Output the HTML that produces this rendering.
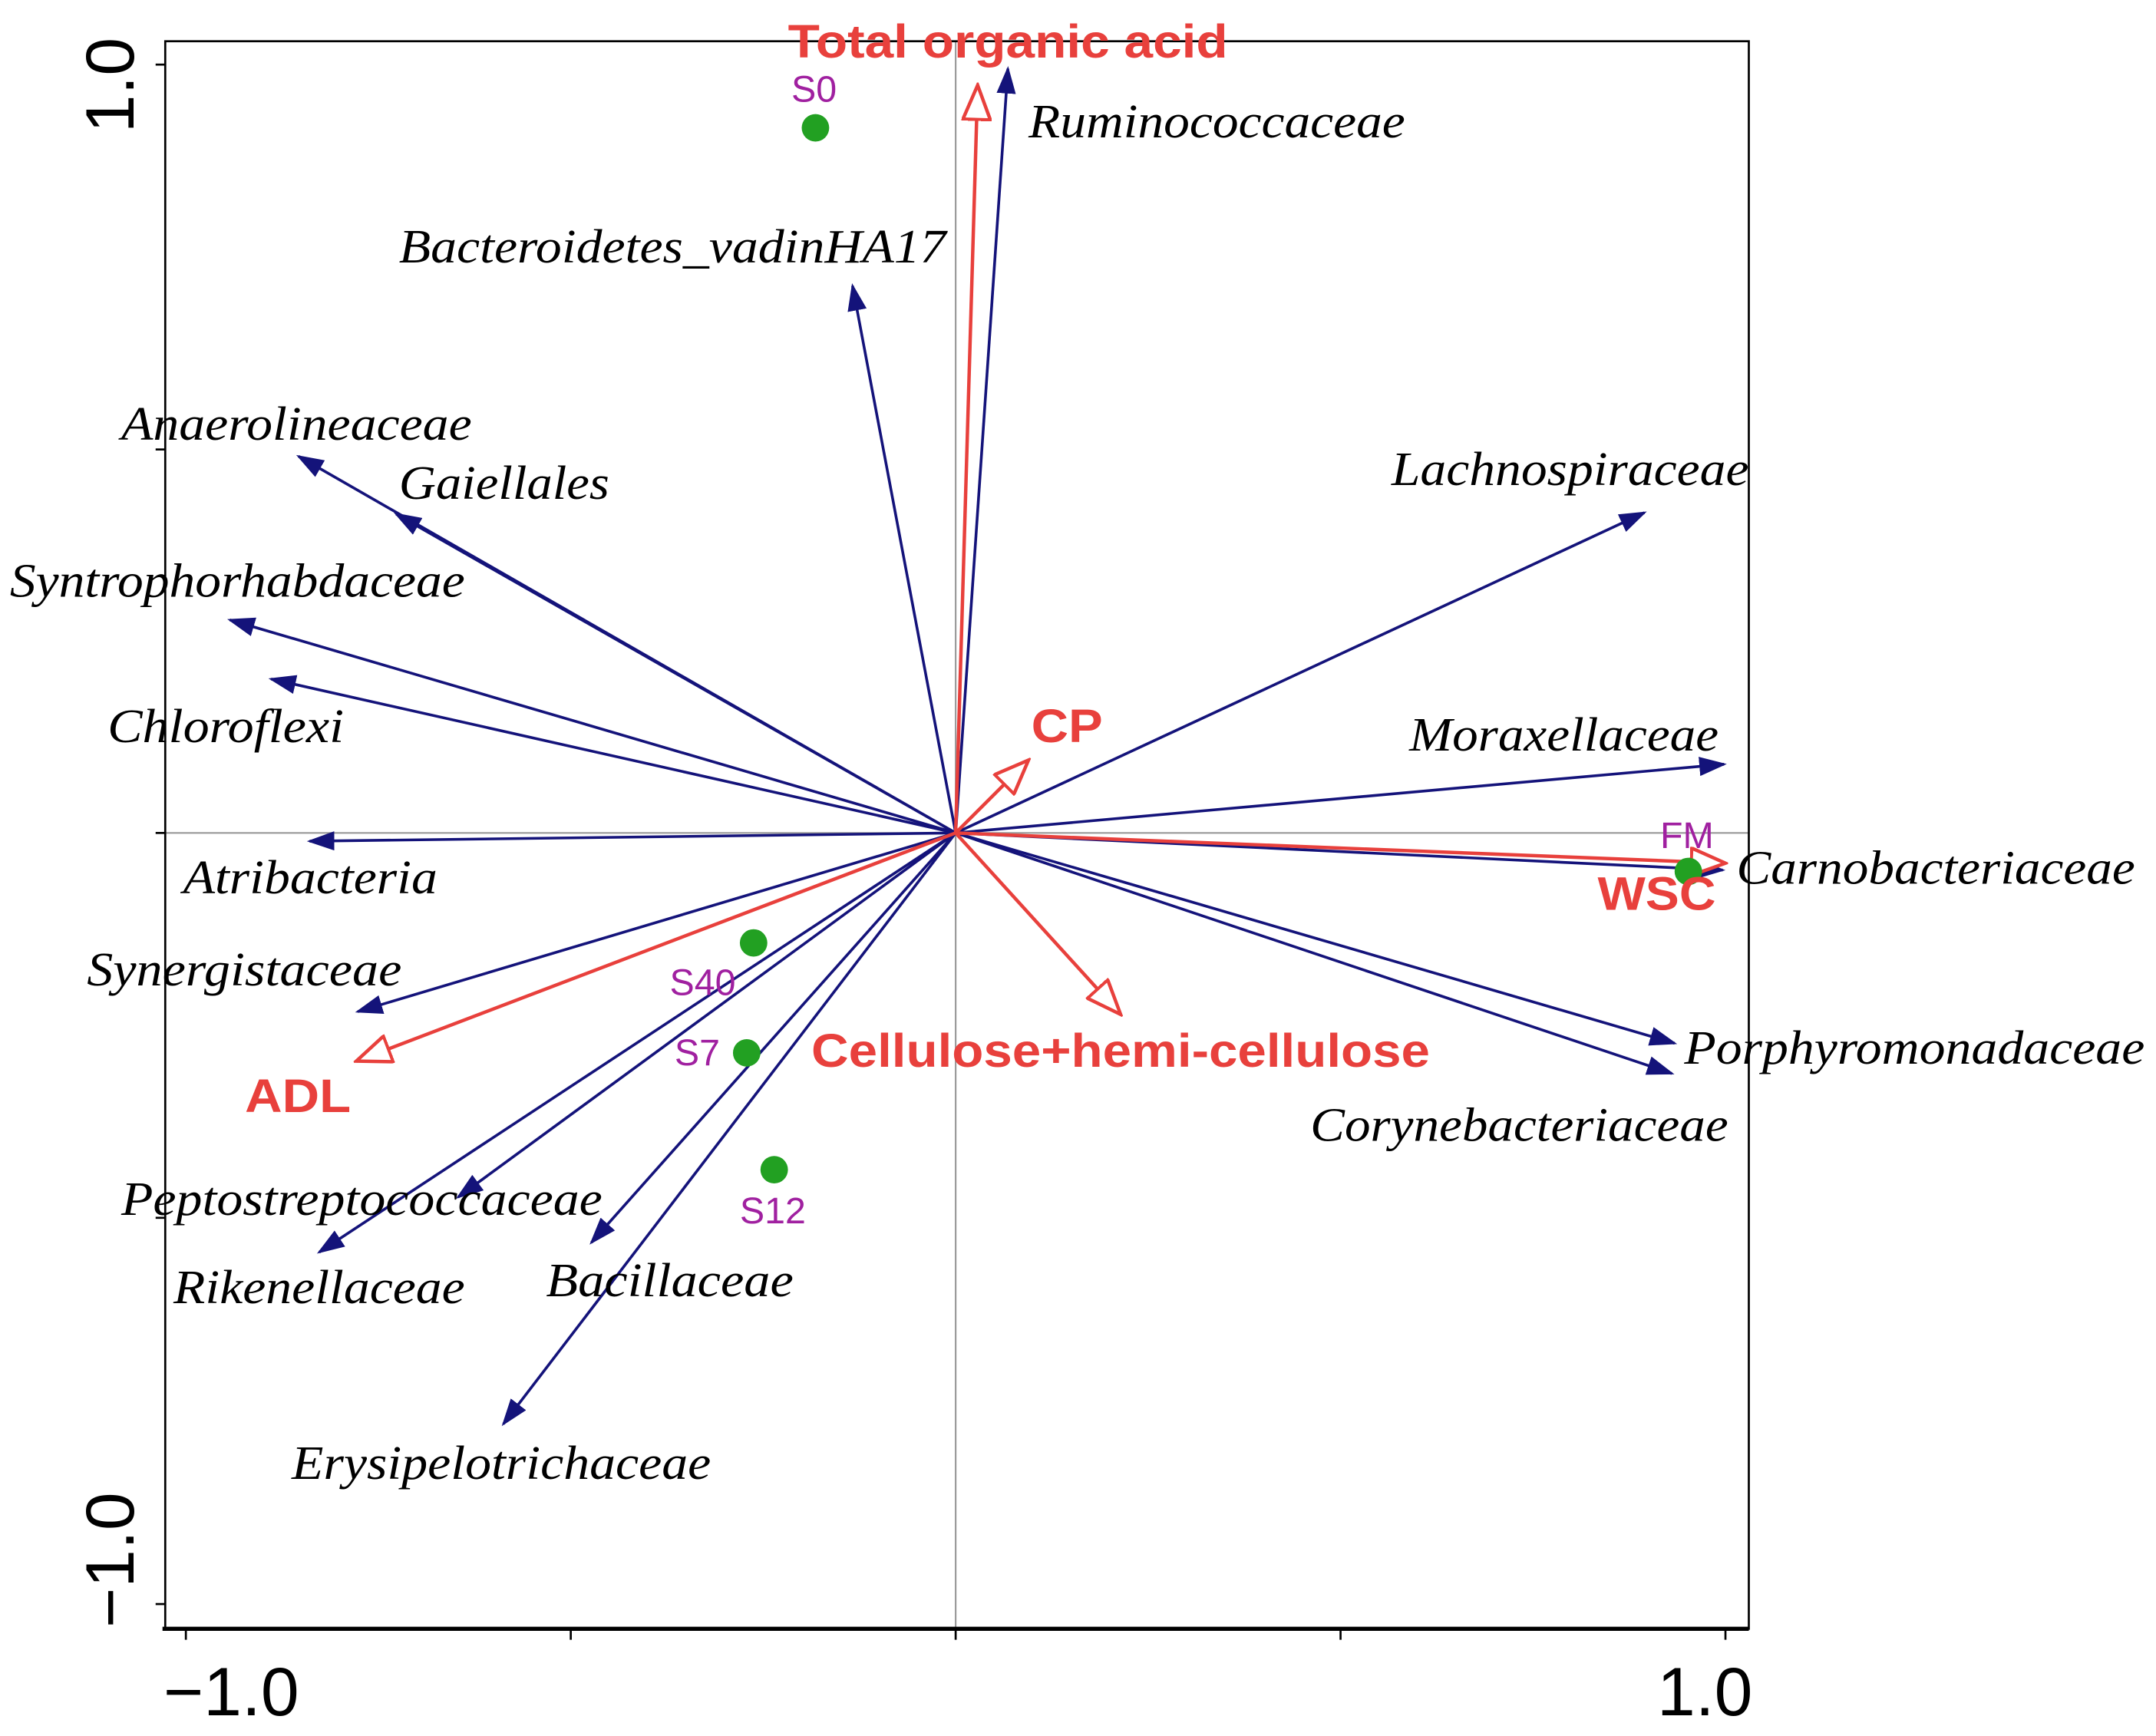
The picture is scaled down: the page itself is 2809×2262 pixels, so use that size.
<!DOCTYPE html>
<html><head><meta charset="utf-8"><style>html,body{margin:0;padding:0;background:#fff}svg{display:block}</style></head>
<body>
<svg width="2809" height="2262" viewBox="0 0 1568 1263" xmlns="http://www.w3.org/2000/svg">
<defs>
<marker id="b" markerWidth="20" markerHeight="14" refX="18" refY="7" orient="auto" markerUnits="userSpaceOnUse"><path d="M0,0 L20,7 L0,14 Z" fill="#14137a"/></marker>
<marker id="r" markerWidth="28" markerHeight="22" refX="26" refY="11" orient="auto" markerUnits="userSpaceOnUse"><path d="M1,1 L26,11 L1,21 Z" fill="#fff" stroke="#e8403c" stroke-width="2.5"/></marker>
</defs>
<rect width="1568" height="1263" fill="#fff"/>
<line x1="120" y1="606" x2="1272" y2="606" stroke="#999" stroke-width="1.2"/>
<line x1="695" y1="30" x2="695" y2="1185" stroke="#999" stroke-width="1.2"/>
<rect x="120" y="30" width="1152" height="1155" fill="none" stroke="#000" stroke-width="1.5"/>
<line x1="118" y1="1185" x2="1272" y2="1185" stroke="#000" stroke-width="3"/>
<g stroke="#000" stroke-width="1.5">
<line x1="113" y1="47" x2="120" y2="47"/><line x1="113" y1="327" x2="120" y2="327"/><line x1="113" y1="606" x2="120" y2="606"/><line x1="113" y1="886" x2="120" y2="886"/><line x1="113" y1="1167" x2="120" y2="1167"/>
<line x1="135" y1="1185" x2="135" y2="1193"/><line x1="415" y1="1185" x2="415" y2="1193"/><line x1="695" y1="1185" x2="695" y2="1193"/><line x1="975" y1="1185" x2="975" y2="1193"/><line x1="1255" y1="1185" x2="1255" y2="1193"/>
</g>
<g font-family="Liberation Sans, sans-serif" font-size="50" fill="#000">
<text transform="translate(97,62) rotate(-90)" text-anchor="middle">1.0</text>
<text transform="translate(97,1135) rotate(-90)" text-anchor="middle">−1.0</text>
<text x="168" y="1248" text-anchor="middle">−1.0</text>
<text x="1240" y="1248" text-anchor="middle">1.0</text>
</g>
<g stroke="#14137a" stroke-width="2" marker-end="url(#b)">
<line x1="695" y1="606" x2="733" y2="50"/>
<line x1="695" y1="606" x2="620" y2="208"/>
<line x1="695" y1="606" x2="217" y2="332"/>
<line x1="695" y1="606" x2="288" y2="374"/>
<line x1="695" y1="606" x2="167" y2="451"/>
<line x1="695" y1="606" x2="197" y2="494"/>
<line x1="695" y1="606" x2="225" y2="612"/>
<line x1="695" y1="606" x2="260" y2="736"/>
<line x1="695" y1="606" x2="333" y2="871"/>
<line x1="695" y1="606" x2="232" y2="911"/>
<line x1="695" y1="606" x2="430" y2="904"/>
<line x1="695" y1="606" x2="366" y2="1036"/>
<line x1="695" y1="606" x2="1196" y2="373"/>
<line x1="695" y1="606" x2="1254" y2="556"/>
<line x1="695" y1="606" x2="1253" y2="633"/>
<line x1="695" y1="606" x2="1218" y2="759"/>
<line x1="695" y1="606" x2="1216" y2="781"/>
</g>
<g stroke="#e8403c" stroke-width="2.5" marker-end="url(#r)">
<line x1="695" y1="606" x2="711" y2="62"/>
<line x1="695" y1="606" x2="748" y2="553"/>
<line x1="695" y1="606" x2="1255" y2="628"/>
<line x1="695" y1="606" x2="815" y2="738"/>
<line x1="695" y1="606" x2="259" y2="772"/>
</g>
<g fill="#22a022">
<circle cx="593" cy="93" r="10"/><circle cx="1228" cy="634" r="10"/><circle cx="548" cy="686" r="10"/><circle cx="543" cy="766" r="10"/><circle cx="563" cy="851" r="10"/>
</g>
<g font-family="Liberation Sans, sans-serif" font-size="27" fill="#a020a0" text-anchor="middle">
<text x="592" y="74">S0</text><text x="1227" y="617">FM</text><text x="511" y="724">S40</text><text x="507" y="775">S7</text><text x="562" y="890">S12</text>
</g>
<g font-family="Liberation Serif, serif" font-style="italic" font-size="35" fill="#000" lengthAdjust="spacingAndGlyphs">
<text x="748" y="100" textLength="274" lengthAdjust="spacingAndGlyphs">Ruminococcaceae</text>
<text x="290" y="191" textLength="398" lengthAdjust="spacingAndGlyphs">Bacteroidetes_vadinHA17</text>
<text x="88" y="320" textLength="255" lengthAdjust="spacingAndGlyphs">Anaerolineaceae</text>
<text x="290" y="363" textLength="153" lengthAdjust="spacingAndGlyphs">Gaiellales</text>
<text x="7" y="434" textLength="331" lengthAdjust="spacingAndGlyphs">Syntrophorhabdaceae</text>
<text x="78" y="540" textLength="172" lengthAdjust="spacingAndGlyphs">Chloroflexi</text>
<text x="133" y="650" textLength="185" lengthAdjust="spacingAndGlyphs">Atribacteria</text>
<text x="63" y="717" textLength="229" lengthAdjust="spacingAndGlyphs">Synergistaceae</text>
<text x="88" y="884" textLength="350" lengthAdjust="spacingAndGlyphs">Peptostreptococcaceae</text>
<text x="126" y="948" textLength="212" lengthAdjust="spacingAndGlyphs">Rikenellaceae</text>
<text x="397" y="943" textLength="180" lengthAdjust="spacingAndGlyphs">Bacillaceae</text>
<text x="212" y="1076" textLength="305" lengthAdjust="spacingAndGlyphs">Erysipelotrichaceae</text>
<text x="1012" y="353" textLength="260" lengthAdjust="spacingAndGlyphs">Lachnospiraceae</text>
<text x="1025" y="546" textLength="225" lengthAdjust="spacingAndGlyphs">Moraxellaceae</text>
<text x="1263" y="643" textLength="290" lengthAdjust="spacingAndGlyphs">Carnobacteriaceae</text>
<text x="1225" y="774" textLength="335" lengthAdjust="spacingAndGlyphs">Porphyromonadaceae</text>
<text x="953" y="830" textLength="304" lengthAdjust="spacingAndGlyphs">Corynebacteriaceae</text>
</g>
<g font-family="Liberation Sans, sans-serif" font-weight="bold" font-size="34" fill="#e8403c">
<text x="573" y="42" textLength="320" lengthAdjust="spacingAndGlyphs">Total organic acid</text>
<text x="750" y="540" textLength="52" lengthAdjust="spacingAndGlyphs">CP</text>
<text x="1162" y="662" textLength="86" lengthAdjust="spacingAndGlyphs">WSC</text>
<text x="590" y="776" textLength="450" lengthAdjust="spacingAndGlyphs">Cellulose+hemi-cellulose</text>
<text x="178" y="809" textLength="77" lengthAdjust="spacingAndGlyphs">ADL</text>
</g>
</svg>
</body></html>
